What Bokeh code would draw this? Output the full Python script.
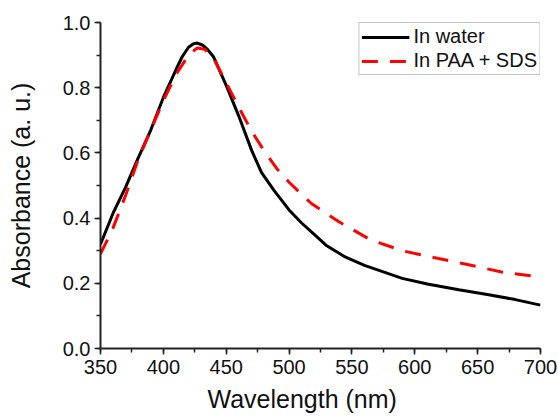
from bokeh.plotting import figure
from bokeh.models import FixedTicker, PrintfTickFormatter, Range1d, Legend, LegendItem, LinearAxis, Title
from bokeh.embed import file_html
from bokeh.resources import INLINE

# data
wl_water = [350, 360, 370, 380, 390, 400, 410, 415, 420, 424, 427, 431, 435, 440, 450, 460, 470,
            478, 488, 500, 510, 520, 530, 545, 560, 575, 590, 610, 635, 660, 680, 700]
abs_water = [0.32, 0.415, 0.495, 0.585, 0.67, 0.77, 0.855, 0.895, 0.924, 0.935, 0.937, 0.931,
             0.918, 0.894, 0.807, 0.713, 0.61, 0.54, 0.485, 0.425, 0.385, 0.35, 0.315, 0.28,
             0.255, 0.235, 0.215, 0.198, 0.18, 0.164, 0.15, 0.133]

wl_paa = [350, 360, 370, 380, 390, 400, 410, 420, 427, 433, 440, 450, 460, 470, 480, 490,
          500, 518, 540, 565, 590, 615, 640, 670, 700]
abs_paa = [0.29, 0.37, 0.47, 0.58, 0.67, 0.76, 0.84, 0.9, 0.922, 0.918, 0.89, 0.815, 0.74,
           0.668, 0.607, 0.553, 0.51, 0.444, 0.388, 0.333, 0.30, 0.279, 0.259, 0.234, 0.219]

x_ticks = [350, 400, 450, 500, 550, 600, 650, 700]
y_ticks = [0.0, 0.2, 0.4, 0.6, 0.8, 1.0]
labels = ["In water", "In PAA + SDS"]
x_title = "Wavelength (nm)"
y_title = "Absorbance (a. u.)"

FONT = "Liberation Sans"

p = figure(width=558, height=418, output_backend="svg", toolbar_location=None,
           x_range=Range1d(350, 700), y_range=Range1d(0, 1.0),
           min_border_left=100, min_border_right=18, min_border_top=22, min_border_bottom=70)
p.outline_line_color = None
p.grid.visible = False
p.background_fill_color = "white"
p.border_fill_color = "white"

r1 = p.line(wl_water, abs_water, line_color="black", line_width=3)
r2 = p.line(wl_paa, abs_paa, line_color="#ff0000", line_width=3, line_dash="16 12")

for ax in (p.xaxis[0], p.yaxis[0]):
    ax.axis_line_width = 2
    ax.axis_line_color = "#222222"
    ax.major_tick_line_width = 1.5
    ax.minor_tick_line_width = 1.5
    ax.major_tick_line_color = "#222222"
    ax.minor_tick_line_color = "#222222"
    ax.major_tick_in = 0
    ax.major_tick_out = 6
    ax.minor_tick_in = 0
    ax.minor_tick_out = 4
    ax.major_label_text_font = FONT
    ax.major_label_text_font_size = "20px"
    ax.major_label_text_color = "#111111"
    ax.major_label_standoff = 4

p.xaxis[0].major_label_standoff = 5
p.xaxis[0].ticker = FixedTicker(ticks=x_ticks, minor_ticks=list(range(350, 701, 25)))
p.yaxis[0].ticker = FixedTicker(ticks=y_ticks, minor_ticks=[i / 10 for i in range(11)])
p.xaxis[0].formatter = PrintfTickFormatter(format="%d")
p.yaxis[0].formatter = PrintfTickFormatter(format="%.1f")

# x title: side-panel title, offset left of the frame centre as in the original
p.add_layout(Title(text=x_title, align="left", offset=107, standoff=12, text_line_height=0.9,
                   text_font=FONT, text_font_size="25px", text_font_style="normal",
                   text_color="#111111"), "below")

# y title: an outer axis that only carries the title
p.add_layout(LinearAxis(axis_label=y_title, bounds=(-0.046, 1.0), ticker=FixedTicker(ticks=[]),
                        axis_line_alpha=0, major_tick_out=0, major_tick_in=0,
                        minor_tick_out=0, minor_tick_in=0, major_label_text_font_size="0px",
                        axis_label_text_font=FONT, axis_label_text_font_size="25px",
                        axis_label_text_font_style="normal", axis_label_text_color="#111111",
                        axis_label_standoff=25), "left")

legend = Legend(items=[LegendItem(label=labels[0], renderers=[r1]),
                       LegendItem(label=labels[1], renderers=[r2])],
                location="top_right")
legend.margin = 0
legend.padding = 2
legend.spacing = 1
legend.glyph_width = 48
legend.glyph_height = 22
legend.label_height = 22
legend.label_standoff = 4
legend.label_text_font = FONT
legend.label_text_font_size = "20px"
legend.label_text_color = "#111111"
legend.border_line_color = "#888888"
legend.border_line_width = 1
legend.background_fill_alpha = 1
p.add_layout(legend)

open("out.html", "w").write(file_html(p, INLINE))
